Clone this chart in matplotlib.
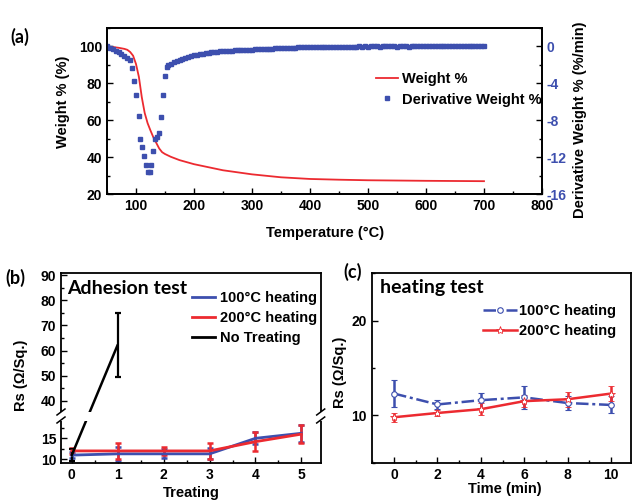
import numpy as np
import matplotlib
matplotlib.use("Agg")
import matplotlib.pyplot as plt
from matplotlib.patches import ConnectionPatch, Rectangle
from matplotlib.lines import Line2D
from matplotlib.ticker import MultipleLocator

plt.rcParams['font.family'] = ['Liberation Sans', 'DejaVu Sans']
plt.rcParams['font.weight'] = 'bold'
plt.rcParams['axes.labelweight'] = 'bold'
plt.rcParams['axes.unicode_minus'] = False

RED = '#ec2a30'
BLUE = '#3d4fae'

# ---- (a) TGA data ----
weight_temp = [50, 60, 70, 80, 85, 90, 95, 100, 105, 110, 115, 120, 125, 130, 135,
               140, 145, 150, 160, 175, 200, 250, 300, 350, 400, 450, 500, 600, 700]
weight_pct = [100, 99.7, 99.3, 98.7, 98.2, 97.0, 95.0, 90.5, 83.5, 72.5, 64.0, 58.5,
              54.5, 50.8, 47.8, 44.8, 42.8, 41.8, 40.3, 38.5, 36.3, 33.0, 30.8, 29.2,
              28.3, 27.9, 27.6, 27.3, 27.1]

deriv_temp_head = [50, 55, 60, 65, 70, 75, 80, 85, 90,
                   92.6, 97, 100.5, 104.6, 107.5, 110.3, 113.2, 116.7, 120, 123.6,
                   126.4, 129.8, 132.8, 136, 139.6, 143, 146.6, 150, 153.4]
deriv_head = [0.0, -0.14, -0.28, -0.44, -0.6, -0.8, -1.0, -1.24, -1.5,
              -2.36, -3.72, -5.24, -7.54, -10.06, -10.92, -11.84, -12.82, -13.56, -13.56,
              -12.82, -11.36, -10.06, -9.8, -9.4, -7.6, -5.3, -3.2, -2.2]
deriv_temp_tail = np.arange(155, 705, 5)
deriv_tail = [-2.05, -1.85, -1.68, -1.55, -1.44, -1.33, -1.22, -1.12, -1.02, -0.94,
              -0.88, -0.83, -0.78, -0.73, -0.69, -0.65, -0.61, -0.57, -0.53, -0.50,
              -0.48, -0.46, -0.44, -0.42, -0.40, -0.38, -0.37, -0.35, -0.34, -0.33,
              -0.31, -0.30, -0.28, -0.27, -0.26, -0.24, -0.23, -0.21, -0.20, -0.18,
              -0.17, -0.16, -0.14, -0.13, -0.12, -0.11, -0.10, -0.09, -0.08, -0.07,
              -0.06, -0.05, -0.05, -0.04, -0.04, -0.03, -0.04, -0.03, -0.02, -0.03,
              -0.02, -0.02, -0.01, -0.02, -0.01, -0.01, 0.0, -0.01, 0.0, -0.01,
              0.0, 0.01, 0.0, -0.01, 0.0, 0.01, 0.0, 0.0, 0.01, -0.01,
              0.0, 0.01, 0.0, -0.01, 0.0, 0.01, 0.0, 0.0, 0.01, 0.0,
              0.01, 0.02, 0.0, 0.02, 0.04, 0.08, 0.05, 0.02, 0.0, 0.01,
              0.02, 0.0, 0.01, 0.02, 0.0, 0.01, 0.02, 0.01, 0.02, 0.03]
deriv_temp = list(deriv_temp_head) + list(deriv_temp_tail)
deriv_val = deriv_head + deriv_tail

# ---- (b) adhesion test ----
treat = [0, 1, 2, 3, 4, 5]
rs100 = [11.0, 11.3, 11.3, 11.3, 15.0, 16.2]
rs100_err = [0.8, 1.7, 1.1, 1.3, 1.4, 2.0]
rs200 = [12.0, 12.0, 12.0, 12.0, 14.2, 16.0]
rs200_err = [0.8, 2.0, 0.9, 2.0, 2.2, 2.1]
notreat_x = [0, 1]
notreat = [11.0, 62.3]
notreat_err = [1.5, 12.7]

# ---- (c) heating test ----
time_min = [0, 2, 4, 6, 8, 10]
heat100 = [12.3, 11.15, 11.6, 11.9, 11.3, 11.1]
heat100_err = [1.4, 0.45, 0.8, 1.2, 0.7, 0.9]
heat200 = [9.8, 10.25, 10.65, 11.5, 11.7, 12.3]
heat200_err = [0.45, 0.35, 0.65, 0.6, 0.8, 0.8]

W, H = 632, 500


def box(l, t, r, b):
    return [l / W, 1 - b / H, (r - l) / W, (b - t) / H]


def style(ax, size=10):
    for s in ax.spines.values():
        s.set_linewidth(1.3)
    ax.tick_params(which='both', direction='in', labelsize=size, width=1.0)
    ax.tick_params(which='major', length=4)
    ax.tick_params(which='minor', length=2.5)


def label_at(axis, px, py, l, t, r, b):
    # place axis label anchor at pixel (px, py) of the figure
    axis.set_label_coords((px - l) / (r - l), (b - py) / (b - t))


fig = plt.figure(figsize=(W / 100, H / 100), dpi=100)

# ================= (a) =================
A = (107, 28, 542, 194.3)
ax = fig.add_axes(box(*A))
ax2 = ax.twinx()
l1, = ax.plot(weight_temp, weight_pct, color=RED, lw=1.3, label='Weight %')
l2, = ax2.plot(deriv_temp, deriv_val, 's', ms=3.2, color=BLUE, mec=BLUE,
               label='Derivative Weight %')
ax.set_xlim(50, 800)
ax.set_ylim(20, 110)
ax2.set_ylim(-16, 2)
ax.set_xticks(range(100, 801, 100))
ax.xaxis.set_minor_locator(MultipleLocator(50))
ax.set_yticks(range(20, 101, 20))
ax.yaxis.set_minor_locator(MultipleLocator(10))
ax2.set_yticks([0, -4, -8, -12, -16])
ax2.yaxis.set_minor_locator(MultipleLocator(2))
style(ax)
style(ax2)
ax.tick_params(right=False, which='both')
ax2.tick_params(axis='y', labelcolor=BLUE)
ax.set_xlabel('Temperature (°C)', fontsize=10.5)
label_at(ax.xaxis, 325, 226, *A)
ax.set_ylabel('Weight % (%)', fontsize=10.5)
label_at(ax.yaxis, 70, 101.5, *A)
ax2.set_ylabel('Derivative Weight % (%/min)', fontsize=10.5, rotation=90)
label_at(ax2.yaxis, 573, 120, *A)
ax.legend(handles=[l1, l2], loc='upper left', frameon=False,
          bbox_to_anchor=(376 / W, 1 - 72 / H), bbox_transform=fig.transFigure,
          borderpad=0, borderaxespad=0, handlelength=1.5, handletextpad=0.25,
          labelspacing=0.45, numpoints=1, fontsize=10.5)

# ================= (b) =================
BL = (61, 420, 320.7, 463.3)
BU = (61, 273, 320.7, 412)
axl = fig.add_axes(box(*BL))
axu = fig.add_axes(box(*BU))
eb1 = axl.errorbar(treat, rs100, yerr=rs100_err, color=BLUE, lw=2, elinewidth=1.8,
                   capsize=2.5, capthick=1.8, label='100°C heating')
eb2 = axl.errorbar(treat, rs200, yerr=rs200_err, color=RED, lw=2, elinewidth=1.8,
                   capsize=2.5, capthick=1.8, label='200°C heating')
for a in (axl, axu):
    a.errorbar(notreat_x, notreat, yerr=notreat_err, color='black', ls='none',
               elinewidth=1.6, capsize=2.5, capthick=1.6)
    a.set_xlim(-0.235, 5.42)
    style(a)
    a.tick_params(right=False, top=False, which='both')
axl.set_ylim(9.05, 19.36)
axu.set_ylim(35.6, 90.8)
axl.set_yticks([10, 15])
axl.yaxis.set_minor_locator(MultipleLocator(2.5))
axu.set_yticks(range(40, 91, 10))
axu.yaxis.set_minor_locator(MultipleLocator(5))
axl.set_xticks(treat)
axl.xaxis.set_minor_locator(MultipleLocator(0.5))
axl.spines['top'].set_visible(False)
axu.spines['bottom'].set_visible(False)
axu.tick_params(axis='x', which='both', bottom=False, labelbottom=False)
axl.set_xlabel('Treating', fontsize=10.5)
label_at(axl.xaxis, 191, 486, *BL)
axu.set_ylabel('Rs (Ω/Sq.)', fontsize=10.5)
label_at(axu.yaxis, 28, 375, *BU)

# black line drawn straight across the axis break
con = ConnectionPatch(xyA=(notreat_x[0], notreat[0]), coordsA=axl.transData,
                      xyB=(notreat_x[1], notreat[1]), coordsB=axu.transData,
                      color='black', lw=1.8, zorder=3)
fig.add_artist(con)
fig.add_artist(Rectangle((58 / W, 1 - 421 / H), 266 / W, 9 / H,
                         transform=fig.transFigure, fc='white', ec='none', zorder=4))
for xb in (61, 320.7):
    for yb in (412, 420):
        fig.add_artist(Line2D([(xb - 4) / W, (xb + 4) / W],
                              [1 - (yb + 3) / H, 1 - (yb - 3) / H],
                              transform=fig.transFigure, color='black', lw=1.1,
                              zorder=5))

black_proxy = Line2D([], [], color='black', lw=2)
axu.legend(handles=[eb1.lines[0], eb2.lines[0], black_proxy],
           labels=['100°C heating', '200°C heating', 'No Treating'],
           loc='upper left', frameon=False,
           bbox_to_anchor=(192 / W, 1 - 291 / H), bbox_transform=fig.transFigure,
           borderpad=0, borderaxespad=0, handlelength=1.6, handletextpad=0.3,
           labelspacing=0.42, fontsize=10.5)
fig.text(67 / W, 1 - 288 / H, 'Adhesion test', fontsize=14, family='Lato',
         weight='bold', va='center', ha='left')

# ================= (c) =================
C = (371.7, 273.3, 630.5, 462.7)
axc = fig.add_axes(box(*C))
ec1 = axc.errorbar(time_min, heat100, yerr=heat100_err, color=BLUE, lw=1.8,
                   ls=(0, (5, 1.5, 1.2, 1.5)), marker='o', ms=4, mfc='white',
                   mec=BLUE, mew=0.8, elinewidth=1.8, capsize=2.5, capthick=1.8)
ec2 = axc.errorbar(time_min, heat200, yerr=heat200_err, color=RED, lw=1.8,
                   marker='*', ms=6, mfc='white', mec=RED, mew=0.6,
                   elinewidth=1.8, capsize=2.5, capthick=1.8)
axc.set_xlim(-1.03, 10.9)
axc.set_ylim(5, 25)
axc.set_xticks(time_min)
axc.xaxis.set_minor_locator(MultipleLocator(1))
axc.set_yticks([10, 20])
axc.yaxis.set_minor_locator(MultipleLocator(5))
style(axc)
axc.tick_params(right=False, top=False, which='both')
axc.set_xlabel('Time (min)', fontsize=10.5)
label_at(axc.xaxis, 505, 482, *C)
axc.set_ylabel('Rs (Ω/Sq.)', fontsize=10.5)
label_at(axc.yaxis, 347, 372, *C)
axc.legend(handles=[ec1.lines[0], ec2.lines[0]],
           labels=['100°C heating', '200°C heating'],
           loc='upper left', frameon=False,
           bbox_to_anchor=(483 / W, 1 - 304 / H), bbox_transform=fig.transFigure,
           borderpad=0, borderaxespad=0, handlelength=2.3, handletextpad=0.2,
           labelspacing=0.4, fontsize=10.5)
fig.text(380 / W, 1 - 288 / H, 'heating test', fontsize=14, family='Lato',
         weight='bold', va='center', ha='left')

# panel letters
fig.text(10 / W, 1 - 37 / H, '(a)', fontsize=13, family='Lato', weight='bold',
         va='center')
fig.text(5 / W, 1 - 278 / H, '(b)', fontsize=13, family='Lato', weight='bold',
         va='center')
fig.text(343 / W, 1 - 272 / H, '(c)', fontsize=13, family='Lato', weight='bold',
         va='center')

fig.savefig('out.png', dpi=100)
